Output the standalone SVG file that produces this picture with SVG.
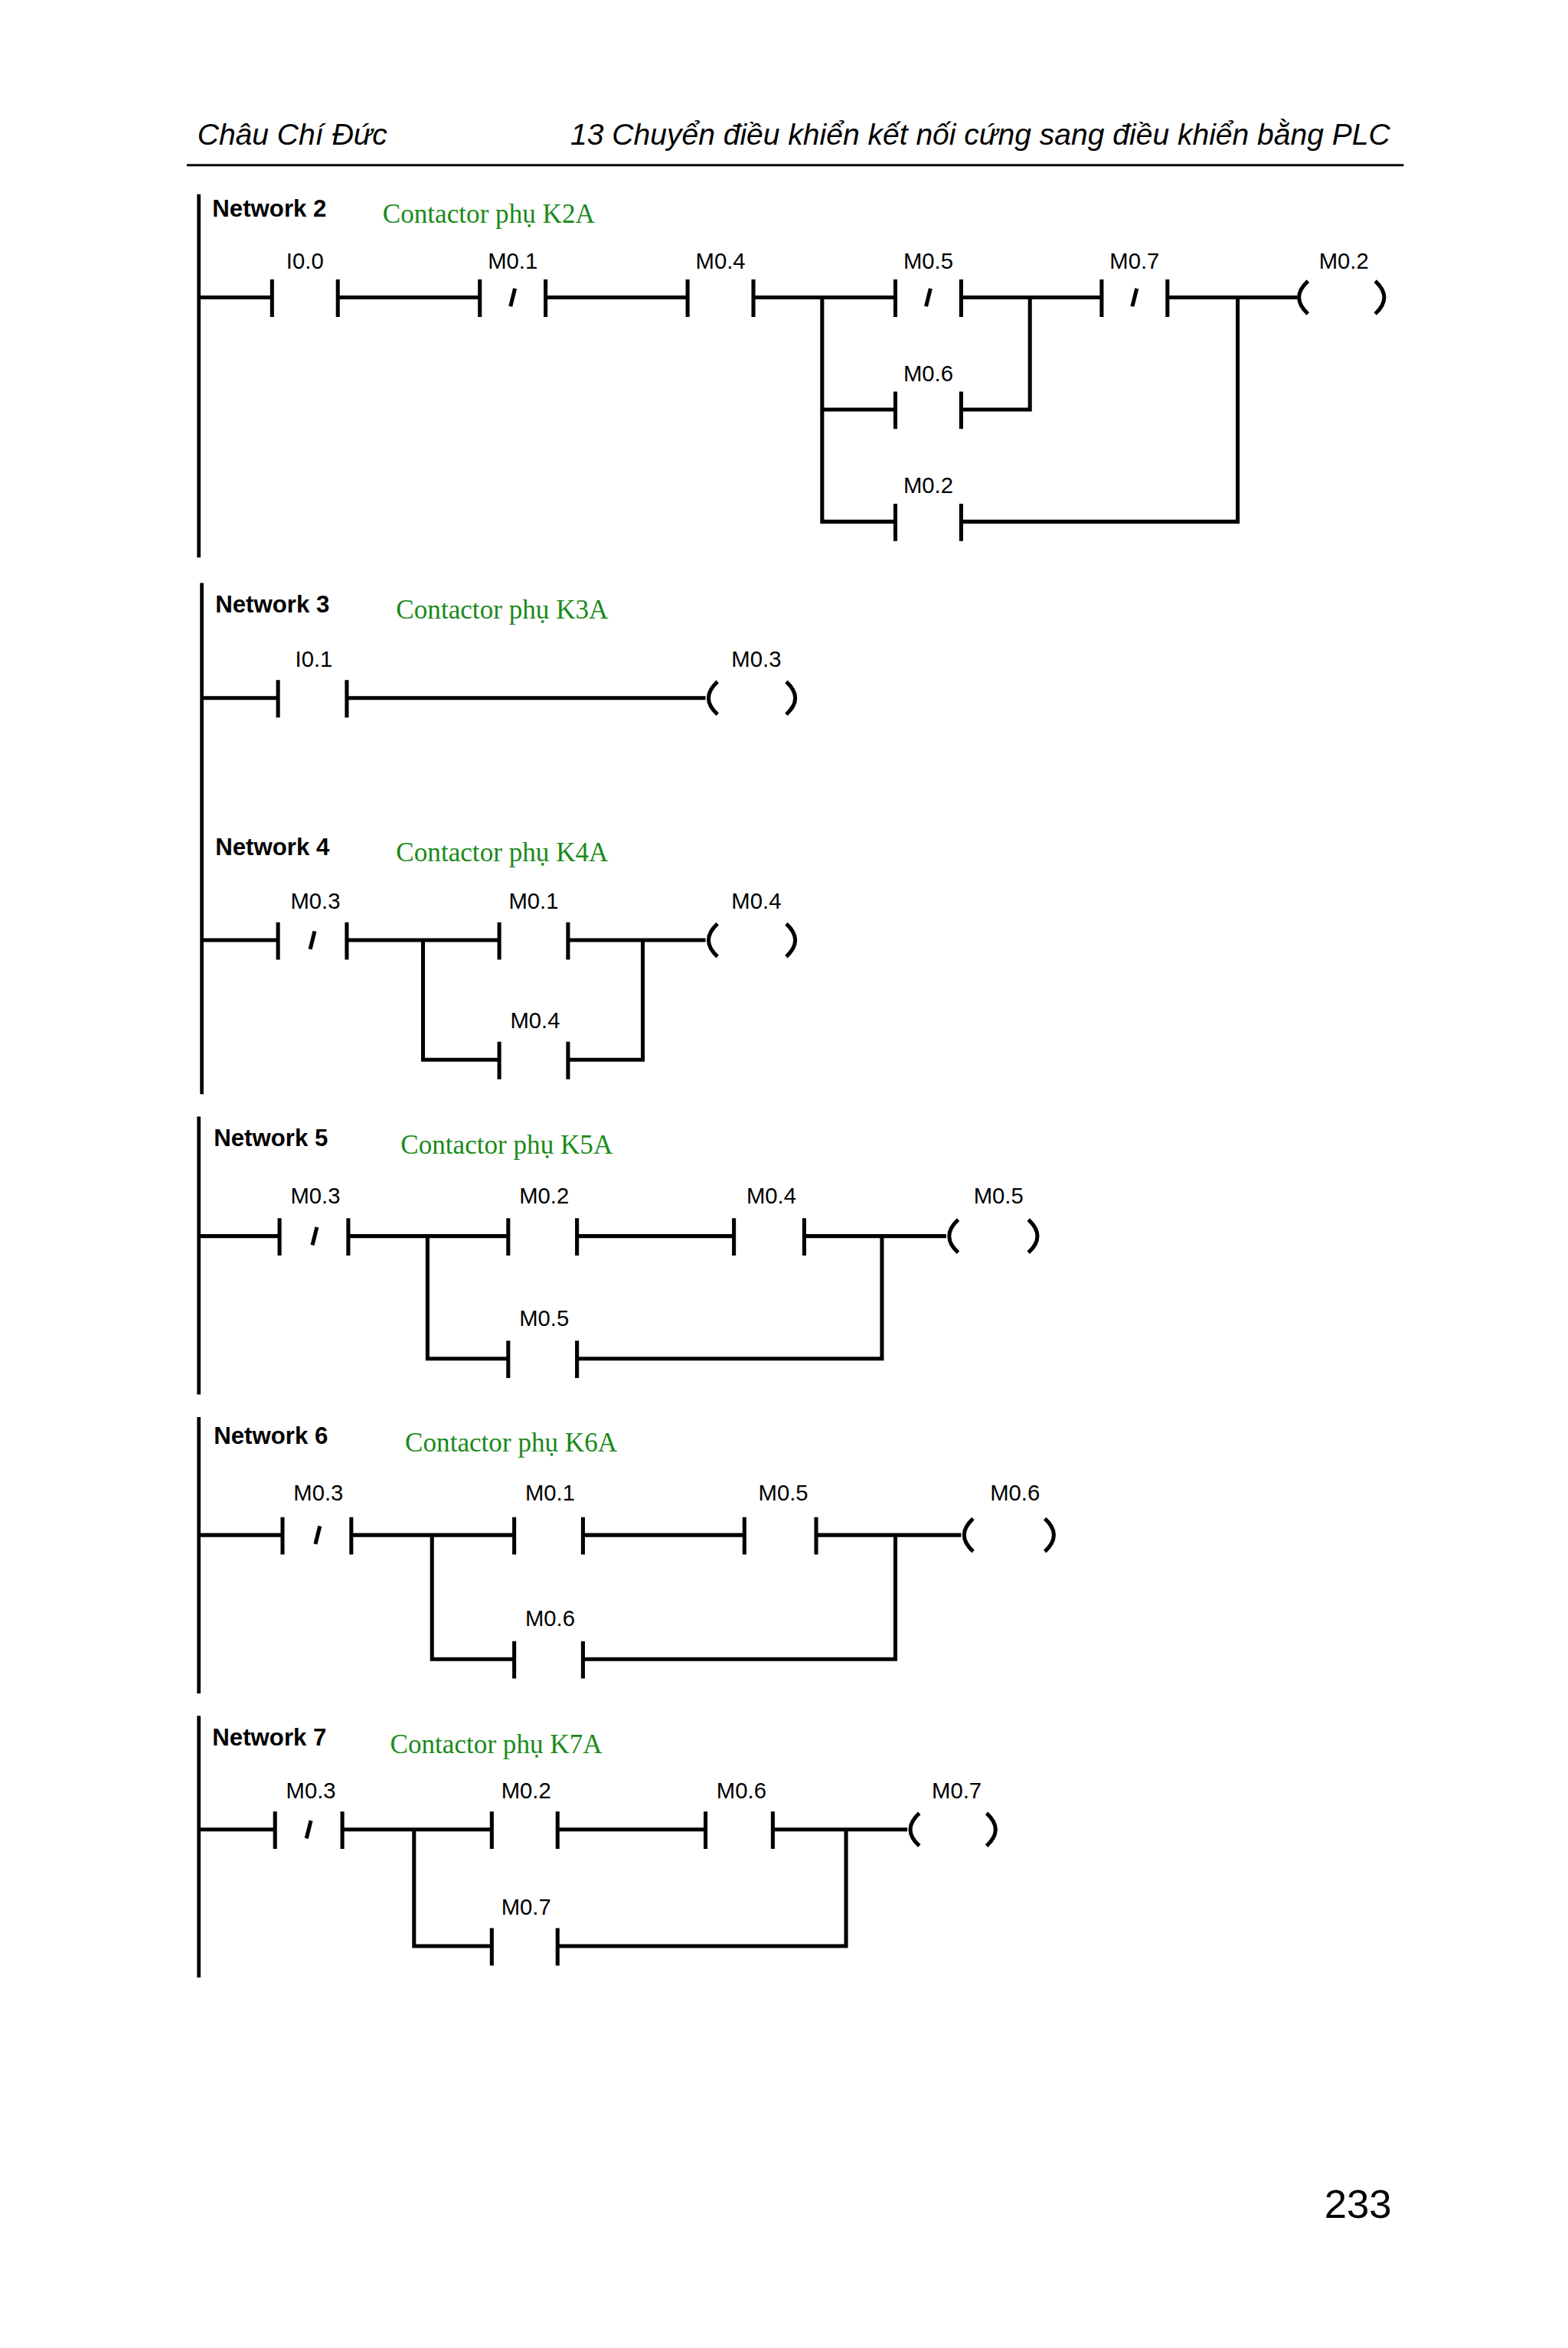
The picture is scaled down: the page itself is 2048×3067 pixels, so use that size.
<svg xmlns="http://www.w3.org/2000/svg" width="2048" height="3067" viewBox="0 0 2048 3067">
<style>
.w{stroke:#000;stroke-width:2.6;fill:none}
.r{stroke:#000;stroke-width:2.4;fill:none}
.lb{font-family:"Liberation Sans Narrow","Liberation Sans",sans-serif;font-size:15px;fill:#000;text-anchor:middle}
.nt{font-family:"Liberation Sans",Arial,sans-serif;font-size:16px;font-weight:bold;fill:#000}
.cm{font-family:"Liberation Serif","Times New Roman",serif;font-size:18px;fill:#1a8a1a}
.hd{font-family:"Liberation Sans",Arial,sans-serif;font-size:20px;font-style:italic;fill:#000}
</style>
<rect width="2048" height="3067" fill="#fff"/>
<g transform="scale(1.9524)">
<g id="header">
<text class="hd" x="132" y="97">Châu Chí Đức</text>
<text class="hd" x="930" y="97" text-anchor="end">13  Chuyển điều khiển kết nối cứng sang điều khiển bằng PLC</text>
<line x1="125" y1="110.5" x2="939" y2="110.5" stroke="#000" stroke-width="1.5"/>
<text x="931" y="1484" text-anchor="end" style="font-family:'Liberation Sans',Arial,sans-serif;font-size:27px">233</text>
</g>
<!-- titles -->
<g id="titles">
<text class="nt" x="142" y="145">Network 2</text><text class="cm" x="256" y="149">Contactor phụ K2A</text>
<text class="nt" x="144" y="410">Network 3</text><text class="cm" x="265" y="414">Contactor phụ K3A</text>
<text class="nt" x="144" y="572">Network 4</text><text class="cm" x="265" y="576">Contactor phụ K4A</text>
<text class="nt" x="143" y="767">Network 5</text><text class="cm" x="268" y="772">Contactor phụ K5A</text>
<text class="nt" x="143" y="966">Network 6</text><text class="cm" x="271" y="971">Contactor phụ K6A</text>
<text class="nt" x="142" y="1168">Network 7</text><text class="cm" x="261" y="1173">Contactor phụ K7A</text>
</g>
<g id="connectors">
<!-- rails -->
<line class="r" x1="133" y1="130" x2="133" y2="373"/>
<line class="r" x1="135" y1="390" x2="135" y2="732"/>
<line class="r" x1="133" y1="747" x2="133" y2="933"/>
<line class="r" x1="133" y1="948" x2="133" y2="1133"/>
<line class="r" x1="133" y1="1148" x2="133" y2="1323"/>
<!-- N2 -->
<path class="w" d="M133 199H182M226 199H321M365 199H460M504 199H599M643 199H737M781 199H868M550 199V349H599M643 349H828V199M550 274H599M643 274H689V199"/>
<!-- N3 -->
<path class="w" d="M135 467H186M232 467H472"/>
<!-- N4 -->
<path class="w" d="M135 629H186M232 629H334M380 629H472M283 629V709H334M380 709H430V629"/>
<!-- N5 -->
<path class="w" d="M133 827H187M233 827H340M386 827H491M538 827H633M286 827V909H340M386 909H590V827"/>
<!-- N6 -->
<path class="w" d="M133 1027H189M235 1027H344M390 1027H498M546 1027H643M289 1027V1110H344M390 1110H599V1027"/>
<!-- N7 -->
<path class="w" d="M133 1224H184M229 1224H329M373 1224H472M517 1224H607M277 1224V1302H329M373 1302H566V1224"/>
</g>
<!-- Network 2 elements -->
<g id="n2_i00"><path class="w" d="M182 187V212M226 187V212"/><text class="lb" x="204" y="180">I0.0</text></g>
<g id="n2_m01"><path class="w" d="M321 187V212M365 187V212M341.5 205L344.5 193"/><text class="lb" x="343" y="180">M0.1</text></g>
<g id="n2_m04"><path class="w" d="M460 187V212M504 187V212"/><text class="lb" x="482" y="180">M0.4</text></g>
<g id="n2_m05"><path class="w" d="M599 187V212M643 187V212M619.5 205L622.5 193"/><text class="lb" x="621" y="180">M0.5</text></g>
<g id="n2_m07"><path class="w" d="M737 187V212M781 187V212M757.5 205L760.5 193"/><text class="lb" x="759" y="180">M0.7</text></g>
<g id="n2_m06"><path class="w" d="M599 262V287M643 262V287"/><text class="lb" x="621" y="255">M0.6</text></g>
<g id="n2_m02"><path class="w" d="M599 337V362M643 337V362"/><text class="lb" x="621" y="330">M0.2</text></g>
<g id="n2_coil"><path class="w" d="M875 188Q863 199 875 210M920 188Q932 199 920 210"/><text class="lb" x="899" y="180">M0.2</text></g>
<!-- Network 3 -->
<g id="n3_i01"><path class="w" d="M186 455V480M232 455V480"/><text class="lb" x="210" y="446">I0.1</text></g>
<g id="n3_coil"><path class="w" d="M480 456Q468 467 480 478M526 456Q538 467 526 478"/><text class="lb" x="506" y="446">M0.3</text></g>
<!-- Network 4 -->
<g id="n4_m03"><path class="w" d="M186 617V642M232 617V642M207.5 635L210.5 623"/><text class="lb" x="211" y="608">M0.3</text></g>
<g id="n4_m01"><path class="w" d="M334 617V642M380 617V642"/><text class="lb" x="357" y="608">M0.1</text></g>
<g id="n4_m04b"><path class="w" d="M334 697V722M380 697V722"/><text class="lb" x="358" y="688">M0.4</text></g>
<g id="n4_coil"><path class="w" d="M480 618Q468 629 480 640M526 618Q538 629 526 640"/><text class="lb" x="506" y="608">M0.4</text></g>
<!-- Network 5 -->
<g id="n5_m03"><path class="w" d="M187 815V840M233 815V840M209 833L212 821"/><text class="lb" x="211" y="805">M0.3</text></g>
<g id="n5_m02"><path class="w" d="M340 815V840M386 815V840"/><text class="lb" x="364" y="805">M0.2</text></g>
<g id="n5_m04"><path class="w" d="M491 815V840M538 815V840"/><text class="lb" x="516" y="805">M0.4</text></g>
<g id="n5_m05b"><path class="w" d="M340 897V922M386 897V922"/><text class="lb" x="364" y="887">M0.5</text></g>
<g id="n5_coil"><path class="w" d="M641 816Q629 827 641 838M688 816Q700 827 688 838"/><text class="lb" x="668" y="805">M0.5</text></g>
<!-- Network 6 -->
<g id="n6_m03"><path class="w" d="M189 1015V1040M235 1015V1040M211 1033L214 1021"/><text class="lb" x="213" y="1004">M0.3</text></g>
<g id="n6_m01"><path class="w" d="M344 1015V1040M390 1015V1040"/><text class="lb" x="368" y="1004">M0.1</text></g>
<g id="n6_m05"><path class="w" d="M498 1015V1040M546 1015V1040"/><text class="lb" x="524" y="1004">M0.5</text></g>
<g id="n6_m06b"><path class="w" d="M344 1098V1123M390 1098V1123"/><text class="lb" x="368" y="1088">M0.6</text></g>
<g id="n6_coil"><path class="w" d="M651 1016Q639 1027 651 1038M699 1016Q711 1027 699 1038"/><text class="lb" x="679" y="1004">M0.6</text></g>
<!-- Network 7 -->
<g id="n7_m03"><path class="w" d="M184 1212V1237M229 1212V1237M205 1230L208 1218"/><text class="lb" x="208" y="1203">M0.3</text></g>
<g id="n7_m02"><path class="w" d="M329 1212V1237M373 1212V1237"/><text class="lb" x="352" y="1203">M0.2</text></g>
<g id="n7_m06"><path class="w" d="M472 1212V1237M517 1212V1237"/><text class="lb" x="496" y="1203">M0.6</text></g>
<g id="n7_m07b"><path class="w" d="M329 1290V1315M373 1290V1315"/><text class="lb" x="352" y="1281">M0.7</text></g>
<g id="n7_coil"><path class="w" d="M615 1213Q603 1224 615 1235M660 1213Q672 1224 660 1235"/><text class="lb" x="640" y="1203">M0.7</text></g>
</g>
</svg>
